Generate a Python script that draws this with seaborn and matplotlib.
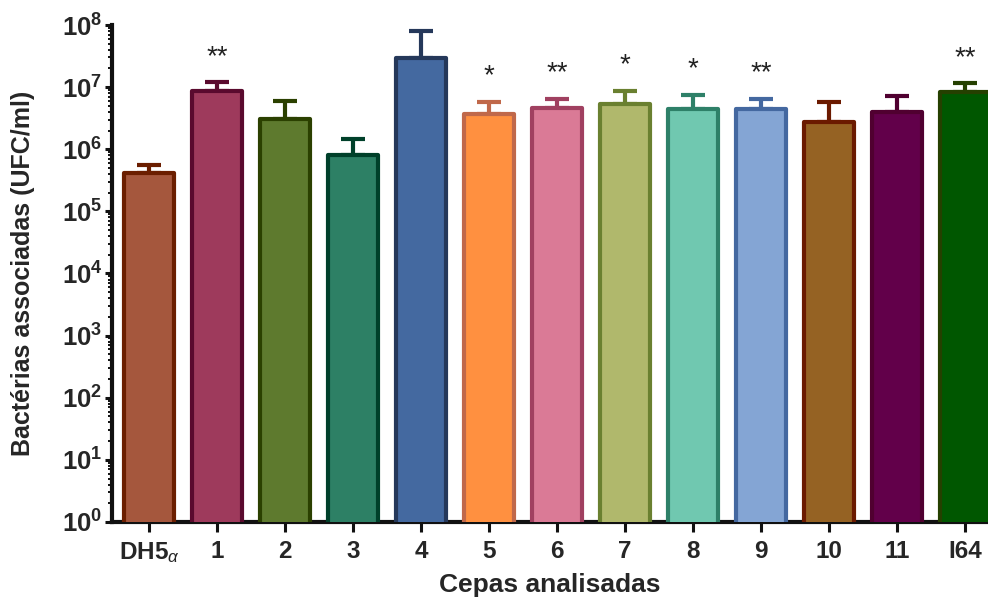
import numpy as np
import pandas as pd
import matplotlib
matplotlib.use("Agg")
import matplotlib.pyplot as plt
import seaborn as sns
from matplotlib.ticker import LogLocator, FixedLocator, NullFormatter

# Strains and measured association (CFU/ml), mean and upper error (SEM)
strains = ["DH5$_{\\alpha}$", "1", "2", "3", "4", "5", "6", "7", "8", "9", "10", "11", "I64"]
mean_cfu = [4.1e5, 8.7e6, 3.05e6, 8.1e5, 2.94e7, 3.76e6, 4.6e6, 5.3e6, 4.5e6, 4.4e6, 2.7e6, 4.0e6, 8.5e6]
sem_cfu = [1.5e5, 3.2e6, 2.95e6, 6.4e5, 5.16e7, 2.0e6, 1.8e6, 3.4e6, 3.0e6, 2.0e6, 3.1e6, 3.1e6, 3.0e6]
significance = ["", "**", "", "", "", "*", "**", "*", "*", "**", "", "", "**"]

fill_colors = ["#A5573D", "#9E3A5C", "#5E7A2E", "#2D8065", "#4469A0", "#FF9040", "#DA7A96",
               "#B0B86C", "#70C8B0", "#84A5D4", "#956223", "#62004A", "#005700"]
edge_colors = ["#6B1E00", "#5A0A2E", "#2B4000", "#00402A", "#25385A", "#C0684A", "#A04060",
               "#6A8030", "#2E8068", "#4468A0", "#6B1A00", "#500030", "#254000"]

y_exponents = list(range(0, 9))

sns.set_style("white")
plt.rcParams["font.family"] = ["Liberation Sans", "DejaVu Sans"]
plt.rcParams["mathtext.fontset"] = "custom"
plt.rcParams["mathtext.rm"] = "Liberation Sans"
plt.rcParams["mathtext.bf"] = "Liberation Sans:bold"
plt.rcParams["mathtext.it"] = "Liberation Sans:italic"

df = pd.DataFrame({"cepa": strains, "cfu": mean_cfu})

fig = plt.figure(figsize=(9.88, 6.04), dpi=100)
ax = fig.add_axes([0.1134, 0.1358, 0.8866, 0.8228])

sns.barplot(data=df, x="cepa", y="cfu", hue="cepa", palette=fill_colors,
            order=strains, hue_order=strains, width=0.74, dodge=False,
            saturation=1, legend=False, errorbar=None, ax=ax, zorder=3)
ax.set_yscale("log")

for patch, ec in zip(ax.patches, edge_colors):
    patch.set_edgecolor(ec)
    patch.set_linewidth(3.0)
    patch.set_joinstyle("round")

xpos = np.arange(len(strains))
for x, m, e, ec in zip(xpos, mean_cfu, sem_cfu, edge_colors):
    ax.errorbar(x, m, yerr=[[0], [e]], fmt="none", ecolor=ec, elinewidth=3.0,
                capsize=8.5, capthick=3.0, zorder=2)

for x, m, e, s in zip(xpos, mean_cfu, sem_cfu, significance):
    if s:
        ax.annotate(s, (x, m + e), xytext=(0, 9), textcoords="offset points",
                    ha="center", va="bottom", fontsize=20, color="#222222")

ax.set_ylim(1, 1e8)
ax.set_xlim(-0.545, 12.34)

ax.yaxis.set_major_locator(FixedLocator([10.0 ** k for k in y_exponents]))
ax.set_yticklabels([f"$\\mathbf{{10^{{{k}}}}}$" for k in y_exponents], fontsize=18.5)
ax.yaxis.set_minor_locator(LogLocator(base=10, subs=np.arange(2, 10), numticks=20))
ax.yaxis.set_minor_formatter(NullFormatter())

ax.set_xticks(xpos)
ax.set_xticklabels(strains, fontsize=17.5, fontweight="bold")

for side in ["top", "right"]:
    ax.spines[side].set_visible(False)
for side in ["left", "bottom"]:
    ax.spines[side].set_linewidth(3.0)
    ax.spines[side].set_color("#111111")

ax.tick_params(axis="y", which="major", direction="out", length=5, width=2.2,
               color="#111111", left=True, pad=2)
ax.tick_params(axis="y", which="minor", direction="out", length=3, width=1.4,
               color="#111111", left=True)
ax.tick_params(axis="x", which="major", direction="out", length=7, width=2.2,
               color="#111111", bottom=True, pad=6)

ax.set_xlabel("Cepas analisadas", fontsize=19, fontweight="bold", labelpad=6)
ax.set_ylabel("Bactérias associadas (UFC/ml)", fontsize=18, fontweight="bold", labelpad=19)

fig.savefig("out.png", dpi=100)
